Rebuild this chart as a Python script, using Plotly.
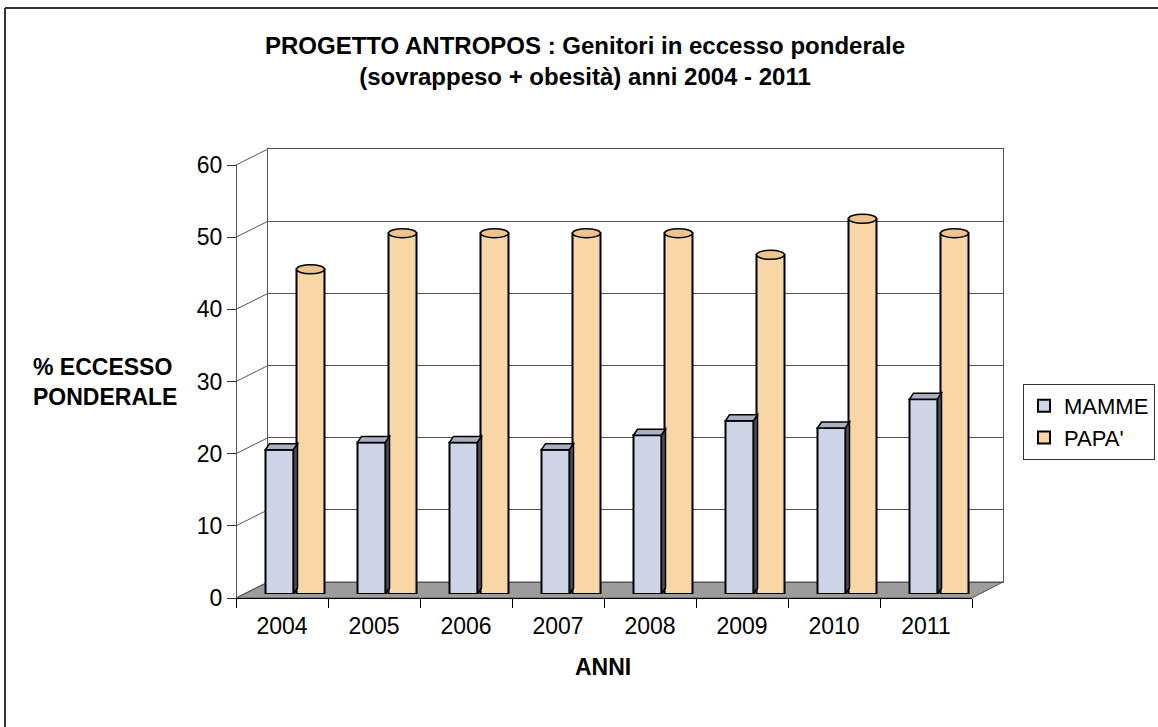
import plotly.graph_objects as go

# ---------------- data ----------------
years = ["2004", "2005", "2006", "2007", "2008", "2009", "2010", "2011"]
mamme = [20, 21, 21, 20, 22, 24, 23, 27]
papa = [45, 50, 50, 50, 50, 47, 52, 50]
y_ticks = [0, 10, 20, 30, 40, 50, 60]
series_names = ["MAMME", "PAPA'"]

# ---------------- layout helpers (pixel -> paper) ----------------
W, H = 1158, 727


def px(x):
    return x / W


def py(y):
    return 1 - y / H


FONT = "Liberation Sans, Arial, sans-serif"
C_MAMME = "#CDD5E6"
C_PAPA = "#F8D6A6"

# geometry of the pseudo-3D frame (pixels)
FRONT_L, FRONT_R, FRONT_Y0, FRONT_Y60 = 236, 972, 598, 165
BACK_L, BACK_R, BACK_Y0, BACK_Y60 = 268, 1003, 582, 149
BAR_L, BAR_R, BAR_Y0, BAR_Y60 = 249, 985, 594, 161

fig = go.Figure()

# back wall subplot (x / y) - gridlines only
fig.add_trace(go.Scatter(x=[None], y=[None], xaxis="x", yaxis="y",
                         showlegend=False, hoverinfo="skip"))
# front axes subplot (x2 / y2)
fig.add_trace(go.Scatter(x=years, y=mamme, xaxis="x2", yaxis="y2", mode="markers",
                         marker=dict(opacity=0), showlegend=False, hoverinfo="skip"))
# bars (x3 / y3)
fig.add_trace(go.Bar(x=years, y=mamme, name=series_names[0], xaxis="x3", yaxis="y3",
                     marker=dict(color=C_MAMME, line=dict(color="black", width=2)),
                     legendgroup="a"))
fig.add_trace(go.Bar(x=years, y=papa, name=series_names[1], xaxis="x3", yaxis="y3",
                     marker=dict(color=C_PAPA, line=dict(color="black", width=2)),
                     legendgroup="b"))

bargap = 1 - 62 / 92
bargroupgap = 1 - 28 / 31

shapes = []
# outer frame (top and left)
shapes.append(dict(type="line", xref="paper", yref="paper", x0=px(5), x1=1, y0=py(8), y1=py(8),
                   line=dict(color="#333333", width=2)))
shapes.append(dict(type="line", xref="paper", yref="paper", x0=px(5), x1=px(5), y0=py(8), y1=0,
                   line=dict(color="#333333", width=2)))
# floor
shapes.append(dict(type="path", xref="paper", yref="paper", layer="below",
                   path=(f"M {px(FRONT_L)} {py(FRONT_Y0)} L {px(BACK_L)} {py(BACK_Y0)} "
                         f"L {px(BACK_R)} {py(BACK_Y0)} L {px(FRONT_R)} {py(FRONT_Y0)} Z"),
                   fillcolor="#9C9C9C", line=dict(color="#555555", width=1)))
# connectors from front axis ticks to back wall
k = (FRONT_Y0 - FRONT_Y60) / 60
for v in y_ticks:
    fy = FRONT_Y0 - v * k
    by = BACK_Y0 - v * k
    shapes.append(dict(type="line", xref="paper", yref="paper", layer="below",
                       x0=px(FRONT_L), y0=py(fy), x1=px(BACK_L), y1=py(by),
                       line=dict(color="#555555", width=1)))

# 3D decorations on bars (computed from the data and the bar scales)
slot = (1 - bargap) / 2
bw = slot * (1 - bargroupgap)
ux = 92.0  # pixels per category
uy = (BAR_Y0 - BAR_Y60) / 60
dx = 4 / ux
dy = 6 / uy
for i, v in enumerate(mamme):
    c = i - slot / 2
    x0, x1 = c - bw / 2, c + bw / 2
    shapes.append(dict(type="path", xref="x3", yref="y3",
                       path=f"M {x0} {v} L {x0+dx} {v+dy} L {x1+dx} {v+dy} L {x1} {v} Z",
                       fillcolor="#A9B0C2", line=dict(color="black", width=1.5)))
    shapes.append(dict(type="path", xref="x3", yref="y3",
                       path=f"M {x1} {v} L {x1+dx} {v+dy} L {x1+dx} {dy} L {x1} 0 Z",
                       fillcolor="#4A4E5A", line=dict(color="black", width=1.5)))
ey = 4.5 / uy
for i, v in enumerate(papa):
    c = i + slot / 2
    shapes.append(dict(type="circle", xref="x3", yref="y3",
                       x0=c - bw / 2, x1=c + bw / 2, y0=v - ey, y1=v + ey,
                       fillcolor="#EDC48E", line=dict(color="black", width=1.5)))

fig.update_layout(
    width=W, height=H,
    margin=dict(l=0, r=0, t=0, b=0, autoexpand=False),
    paper_bgcolor="white", plot_bgcolor="rgba(0,0,0,0)",
    barmode="group", bargap=bargap, bargroupgap=bargroupgap,
    font=dict(family=FONT, color="black"),
    xaxis=dict(domain=[px(BACK_L), px(BACK_R)], range=[0, 1], anchor="y", automargin=False,
               showticklabels=False, showgrid=False, zeroline=False, ticks="",
               showline=True, mirror=True, linecolor="#555555", linewidth=1),
    yaxis=dict(domain=[py(BACK_Y0), py(BACK_Y60)], range=[0, 60], anchor="x", automargin=False,
               tickvals=y_ticks, showticklabels=False, ticks="",
               showgrid=True, gridcolor="#555555", gridwidth=1, zeroline=False,
               showline=True, mirror=True, linecolor="#555555", linewidth=1),
    xaxis2=dict(domain=[px(FRONT_L), px(FRONT_R)], anchor="y2", type="category", automargin=False,
                categoryorder="array", categoryarray=years, range=[-0.5, len(years) - 0.5],
                tickson="boundaries", ticks="outside", ticklen=9, tickcolor="black",
                showline=True, linecolor="black", linewidth=1, showgrid=False,
                tickfont=dict(family=FONT, size=23, color="black"), ticklabelstandoff=7),
    yaxis2=dict(domain=[py(FRONT_Y0), py(FRONT_Y60)], anchor="free", position=px(FRONT_L),
                automargin=False,
                range=[0, 60], tickvals=y_ticks, ticks="outside", ticklen=9, tickcolor="#333333",
                showline=True, linecolor="#555555", linewidth=1, showgrid=False, zeroline=False,
                tickfont=dict(family=FONT, size=23, color="black")),
    xaxis3=dict(domain=[px(BAR_L), px(BAR_R)], anchor="y3", type="category", automargin=False,
                categoryorder="array", categoryarray=years, range=[-0.5, len(years) - 0.5],
                visible=False),
    yaxis3=dict(domain=[py(BAR_Y0), py(BAR_Y60)], anchor="x3", range=[0, 60], visible=False,
                automargin=False),
    legend=dict(x=px(1155), xanchor="right", y=py(384), yanchor="top",
                bordercolor="#333333", borderwidth=1, bgcolor="white",
                font=dict(family=FONT, size=22, color="black"),
                traceorder="grouped", tracegroupgap=0),
    shapes=shapes,
    annotations=[
        dict(text="<b>PROGETTO ANTROPOS : Genitori in eccesso ponderale<br>(sovrappeso + obesità) anni 2004 - 2011</b>",
             xref="paper", yref="paper", x=px(585), y=py(61), xanchor="center", yanchor="middle",
             align="center", showarrow=False, font=dict(family=FONT, size=24, color="black")),
        dict(text="<b>% ECCESSO<br>PONDERALE</b>", xref="paper", yref="paper",
             x=px(31), y=py(382), xanchor="left", yanchor="middle", align="left",
             showarrow=False, font=dict(family=FONT, size=23, color="black")),
        dict(text="<b>ANNI</b>", xref="paper", yref="paper",
             x=px(603), y=py(667), xanchor="center", yanchor="middle",
             showarrow=False, font=dict(family=FONT, size=23, color="black")),
    ],
)

fig.write_html("out.html", config={"displayModeBar": False},
               post_script="document.body.style.margin='0px';")
